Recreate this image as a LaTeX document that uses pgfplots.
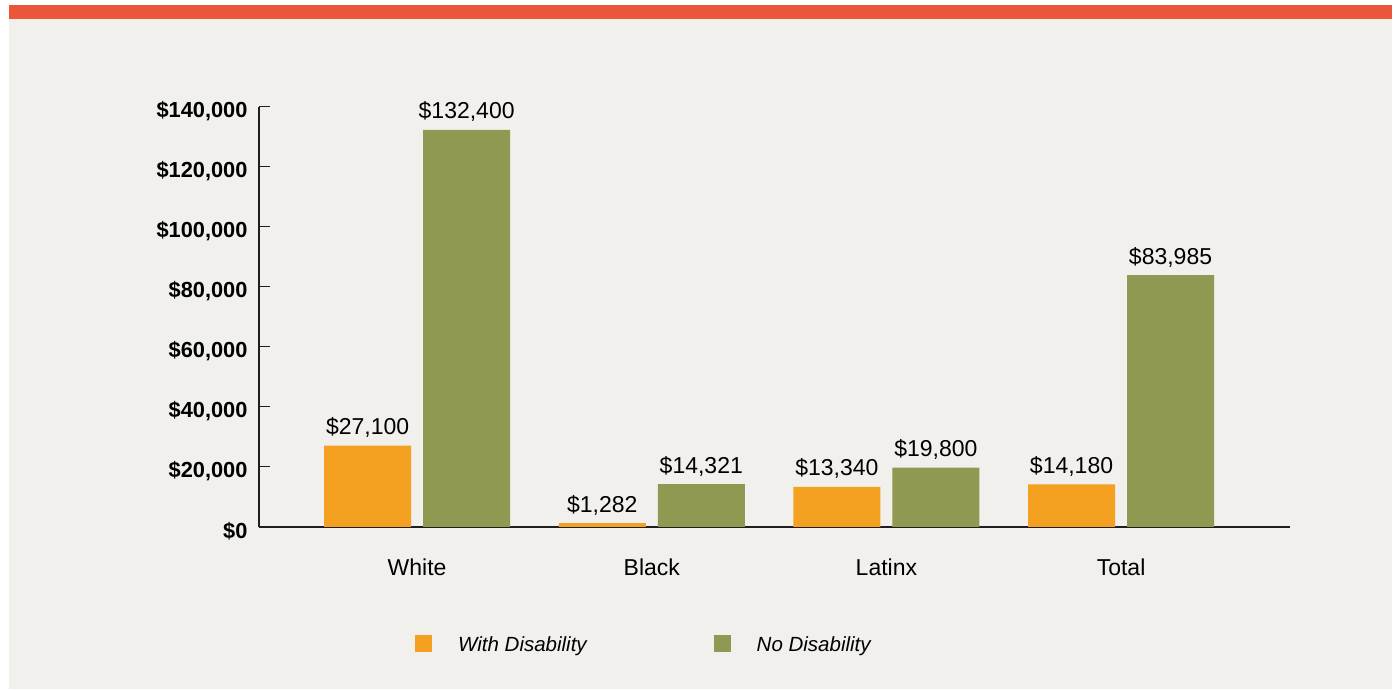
\documentclass[border=0pt]{standalone}
\usepackage{fontspec}
\setmainfont{Liberation Sans}
\usepackage{pgfplots}
\pgfplotsset{compat=1.18}

\definecolor{bandred}{RGB}{235,86,59}
\definecolor{bggray}{RGB}{241,240,236}
\definecolor{withdis}{RGB}{244,161,33}
\definecolor{nodis}{RGB}{145,152,82}
\definecolor{axisdark}{RGB}{30,30,30}

\begin{document}
\begin{tikzpicture}[x=1pt,y=1pt]
\useasboundingbox (0,0) rectangle (1393,690);
\fill[white] (0,0) rectangle (1393,690);
\fill[bggray] (9,1) rectangle (1392,671);
\fill[bandred] (9,671) rectangle (1392,685);
\begin{axis}[
    at={(259pt,163pt)}, anchor=south west,
    scale only axis, width=1031pt, height=420pt,
    xmin=-0.674, xmax=3.72,
    ymin=0, ymax=140000,
    clip=false,
    ybar=12pt, bar width=87pt,
    axis x line*=bottom, axis y line*=left,
    axis line style={-, draw=axisdark, line width=1.3pt},
    xtick={0,1,2,3},
    xticklabels={White,Black,Latinx,Total},
    xtick style={draw=none},
    xticklabel style={font=\fontsize{23}{27}\selectfont, yshift=-28pt},
    ytick={0,20000,...,140000},
    tick align=inside,
    major tick length=11pt,
    ytick style={draw=axisdark, line width=1pt},
    scaled y ticks=false,
    yticklabel={\textbf{\$\pgfmathprintnumber{\tick}}},
    yticklabel style={font=\fontsize{21.8}{26}\selectfont, xshift=-8pt, yshift=-4pt},
    /pgf/number format/.cd, fixed, precision=0, 1000 sep={,}, assume math mode=true,
    /pgfplots/.cd,
    point meta=y,
    nodes near coords={\$\pgfmathprintnumber{\pgfplotspointmeta}},
    nodes near coords style={font=\fontsize{23}{27}\selectfont, text=black, anchor=base, yshift=11pt},
    legend columns=2,
    legend image code/.code={\fill[#1] (0pt,-7pt) rectangle (17pt,10pt);},
    legend style={at={(0.1513,-0.2786)}, anchor=west, draw=none, fill=none,
        inner sep=0pt, nodes={inner sep=0pt},
        font=\itshape\fontsize{20.5}{24}\selectfont,
        /tikz/every odd column/.append style={column sep=26pt},
        /tikz/every even column/.append style={column sep=127pt}},
]
\addplot[fill=withdis, draw=none] coordinates {(0,27100) (1,1282) (2,13340) (3,14180)};
\addplot[fill=nodis, draw=none] coordinates {(0,132400) (1,14321) (2,19800) (3,83985)};
\legend{With Disability, No Disability}
\end{axis}
\end{tikzpicture}
\end{document}
